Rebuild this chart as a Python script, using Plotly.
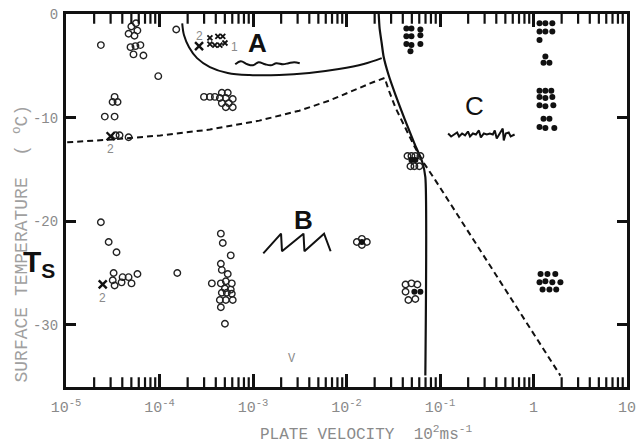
import math
import plotly.graph_objects as go

# ---------------- data ----------------
# open circles (plate velocity in 10^2 m/s, surface temperature in deg C)
open_v = [2.36e-5, 5.0e-5, 5.8e-5, 4.67e-5, 5.4e-5, 5.6e-5,
          4.9e-5, 5.53e-5, 6.25e-5, 5.27e-5, 6.73e-5,
          9.7e-5, 1.51e-4,
          3.31e-5, 3.15e-5, 3.56e-5, 2.60e-5, 3.31e-5,
          3.40e-5, 3.74e-5, 4.67e-5,
          2.36e-5, 2.86e-5, 3.47e-5, 3.23e-5, 3.16e-5, 3.31e-5, 4.03e-5, 3.93e-5, 4.67e-5, 5.02e-5, 5.81e-5, 1.55e-4,
          2.99e-4, 3.46e-4, 3.91e-4, 4.64e-4, 5.37e-4, 4.42e-4, 5.12e-4, 6.07e-4, 4.64e-4, 5.51e-4, 5.12e-4, 6.07e-4,
          4.53e-4, 4.75e-4, 5.78e-4, 4.53e-4, 4.64e-4, 5.37e-4, 3.63e-4, 4.53e-4, 5.12e-4, 5.93e-4, 5.01e-4, 5.78e-4,
          4.64e-4, 5.25e-4, 5.93e-4, 4.42e-4, 5.12e-4, 6.07e-4, 4.53e-4, 5.01e-4,
          1.29e-2, 1.46e-2, 1.65e-2, 1.46e-2,
          4.49e-2, 4.95e-2, 5.45e-2, 6.17e-2, 4.83e-2, 5.32e-2, 6.01e-2,
          4.28e-2, 4.95e-2, 5.73e-2, 4.28e-2, 4.59e-2, 5.45e-2]
open_T = [-3.0, -1.2, -1.6, -1.9, -2.1, -0.9,
          -3.2, -3.1, -3.0, -3.9, -4.0,
          -6.0, -1.5,
          -8.0, -8.5, -8.5, -9.9, -9.9,
          -11.7, -11.7, -11.9,
          -20.1, -22.0, -23.0, -25.0, -25.7, -26.2, -25.4, -25.9, -25.4, -26.0, -25.1, -25.0,
          -8.0, -8.0, -8.0, -7.6, -7.6, -8.1, -8.1, -8.2, -8.6, -8.6, -9.0, -9.0,
          -21.2, -22.1, -23.3, -24.1, -24.7, -25.1, -26.0, -26.0, -25.8, -26.0, -26.5, -26.6,
          -26.9, -26.9, -27.0, -27.6, -27.6, -27.6, -28.3, -29.9,
          -22.0, -21.7, -22.0, -22.3,
          -13.7, -13.7, -13.7, -13.7, -14.7, -14.7, -14.7,
          -26.1, -26.0, -26.1, -26.8, -27.6, -27.5]

# filled dots
filled_v = [1.46e-2, 4.95e-2, 5.45e-2, 5.32e-2, 6.17e-2,
            4.37e-2, 4.95e-2, 6.17e-2, 4.37e-2, 4.95e-2, 6.17e-2, 4.37e-2, 4.95e-2, 6.17e-2, 4.83e-2,
            1.16, 1.34, 1.59, 1.16, 1.34, 1.59, 1.16, 1.34, 1.28, 1.48,
            1.16, 1.34, 1.55, 1.16, 1.34, 1.59, 1.16, 1.34, 1.63, 1.28, 1.48, 1.16, 1.34, 1.67,
            1.19, 1.41, 1.71, 1.16, 1.34, 1.59, 1.94, 1.25, 1.48, 1.75]
filled_T = [-22.0, -14.1, -14.1, -26.8, -26.8,
            -1.4, -1.4, -1.5, -2.15, -2.15, -2.05, -2.9, -3.0, -2.9, -3.6,
            -0.9, -0.9, -0.9, -1.7, -1.7, -1.7, -2.5, -4.1, -4.7, -4.7,
            -7.4, -7.4, -7.4, -8.0, -8.1, -8.0, -8.8, -8.9, -8.8, -10.1, -10.1, -10.9, -11.0, -11.0,
            -25.1, -25.1, -25.1, -25.9, -25.8, -25.9, -25.9, -26.6, -26.6, -26.6]

# crosses
cross_big_v = [2.65e-4, 3.0e-5, 2.47e-5]
cross_big_T = [-3.1, -11.8, -26.1]
cross_small_v = [3.46e-4, 4.21e-4, 4.75e-4, 3.46e-4, 3.91e-4, 4.42e-4, 5.01e-4]
cross_small_T = [-2.3, -2.15, -2.15, -2.9, -3.0, -3.0, -2.8]

# boundary A (solid curve)
bA_v = [1.75e-4, 1.83e-4, 2.07e-4, 2.52e-4, 3.46e-4, 5.37e-4, 9.2e-4, 1.91e-3, 3.99e-3, 8.3e-3, 1.53e-2, 2.38e-2]
bA_T = [-0.9, -2.06, -3.21, -4.26, -5.12, -5.69, -5.89, -5.89, -5.69, -5.31, -4.83, -4.26]
# boundary C (solid curve)
bC_v = [2.21e-2, 2.26e-2, 2.38e-2, 2.49e-2, 2.82e-2, 3.34e-2, 4.17e-2, 5.32e-2, 6.47e-2, 6.97e-2, 6.97e-2]
bC_T = [0.0, -1.39, -2.82, -4.07, -5.89, -7.80, -10.10, -12.49, -14.31, -15.74, -34.9]
# dashed boundary
dash_v = [1.03e-5, 3.15e-5, 1.02e-4, 3.46e-4, 1.17e-3, 3.13e-3, 6.5e-3, 1.2e-2, 1.95e-2, 2.56e-2,
          2.82e-2, 3.34e-2, 4.28e-2, 5.32e-2, 6.64e-2, 8.9e-2, 1.94]
dash_T = [-12.39, -12.11, -11.72, -11.15, -10.29, -9.33, -8.37, -7.32, -6.56, -6.17,
          -7.32, -9.04, -10.96, -12.77, -14.31, -16.03, -34.9]

# regime sketches (log10 velocity, temperature)
wavyA_lv = [-3.19, -3.13, -3.06, -3.0, -2.94, -2.87, -2.81, -2.75, -2.68, -2.62, -2.56, -2.50]
wavyA_T = [-4.85, -4.55, -4.85, -4.95, -4.65, -4.85, -4.95, -4.75, -4.85, -4.75, -4.65, -4.75]
sawB_lv = [-2.89, -2.70, -2.69, -2.46, -2.45, -2.24, -2.17]
sawB_T = [-23.1, -21.2, -22.9, -21.2, -22.9, -21.2, -22.9]
noiseC_lv = [-0.913, -0.881, -0.849, -0.817, -0.796, -0.764, -0.732, -0.701, -0.679, -0.648, -0.616, -0.584, -0.563,
             -0.531, -0.499, -0.467, -0.435, -0.414, -0.393, -0.361, -0.329, -0.318, -0.297, -0.265, -0.244, -0.202]
noiseC_T = [-11.53, -11.82, -11.63, -11.44, -11.82, -11.53, -11.72, -11.34, -11.82, -11.53, -11.63, -11.24, -11.91,
            -11.53, -11.63, -11.53, -11.63, -11.24, -12.01, -11.53, -11.05, -12.20, -11.53, -11.44, -11.82, -11.63]

x_tickvals = [1e-5, 1e-4, 1e-3, 1e-2, 1e-1, 1, 10]
x_ticktext = ["10<sup>-5</sup>", "10<sup>-4</sup>", "10<sup>-3</sup>", "10<sup>-2</sup>",
              "10<sup>-1</sup>", "1", "10"]
x_decades = [1e-5, 1e-4, 1e-3, 1e-2, 1e-1, 1]
x_minor_mult = [2, 3, 4, 5, 6, 7, 8, 9]
y_tickvals = [0, -10, -20, -30]
y_ticktext = ["0", "-10", "-20", "-30"]
Y_RANGE = [-36, 0]

# labels: (text, velocity, temperature, size)
point_labels = [("2", 2.65e-4, -2.1, 12), ("1", 6.3e-4, -3.2, 12),
                ("2", 3.0e-5, -13.0, 12), ("2", 2.47e-5, -27.4, 12)]

# ---------------- figure ----------------
fig = go.Figure()
BLK = "#111111"
GRAY = "#8a8a8a"

fig.add_trace(go.Scatter(x=bA_v, y=bA_T, mode="lines", line=dict(color=BLK, width=2, shape="spline")))
fig.add_trace(go.Scatter(x=bC_v, y=bC_T, mode="lines", line=dict(color=BLK, width=2.2, shape="spline", smoothing=0.6)))
fig.add_trace(go.Scatter(x=dash_v, y=dash_T, mode="lines", line=dict(color=BLK, width=2, dash="6px,4px")))

fig.add_trace(go.Scatter(x=[10 ** v for v in wavyA_lv], y=wavyA_T, mode="lines",
                         line=dict(color=BLK, width=2, shape="spline")))
fig.add_trace(go.Scatter(x=[10 ** v for v in sawB_lv], y=sawB_T, mode="lines",
                         line=dict(color=BLK, width=2)))
fig.add_trace(go.Scatter(x=[10 ** v for v in noiseC_lv], y=noiseC_T, mode="lines",
                         line=dict(color=BLK, width=2)))

fig.add_trace(go.Scatter(x=open_v, y=open_T, mode="markers",
                         marker=dict(symbol="circle-open", size=6.5, color="#222", line=dict(width=1.4, color="#222"))))
fig.add_trace(go.Scatter(x=filled_v, y=filled_T, mode="markers",
                         marker=dict(symbol="circle", size=6, color=BLK)))
fig.add_trace(go.Scatter(x=cross_big_v, y=cross_big_T, mode="markers",
                         marker=dict(symbol="x-thin", size=8, line=dict(width=2.4, color=BLK))))
fig.add_trace(go.Scatter(x=cross_small_v, y=cross_small_T, mode="markers",
                         marker=dict(symbol="x-thin", size=5, line=dict(width=1.8, color=BLK))))

# minor log ticks (2..9 per decade) drawn as short vertical dash markers just inside bottom and top axes
minor_x = [m * d for d in x_decades for m in x_minor_mult]
inset = 0.4  # about half a tick length, in degrees
for yv in (Y_RANGE[0] + inset, Y_RANGE[1] - inset):
    fig.add_trace(go.Scatter(x=minor_x, y=[yv] * len(minor_x), mode="markers", cliponaxis=False,
                             hoverinfo="skip",
                             marker=dict(symbol="line-ns", size=8, color=BLK, line=dict(width=2.2, color=BLK))))


def ann(text, x, y, size, color=GRAY, family="Liberation Sans", data=True, **kw):
    if data:
        x = math.log10(x)
    fig.add_annotation(text=text, x=x, y=y, showarrow=False, xanchor="center", yanchor="middle",
                       font=dict(size=size, color=color, family=family), **kw)


for t, v, T, s in point_labels:
    ann(t, v, T, s)

# regime letters
ann("<b>A</b>", 1.12e-3, -2.8, 26, color=BLK)
ann("<b>B</b>", 3.5e-3, -19.9, 26, color=BLK)
ann("C", 0.231, -8.9, 26, color=BLK)
ann("V", 2.6e-3, -33.3, 12, family="Liberation Mono")

# axis titles as paper annotations
ann("PLATE VELOCITY  10<sup>2</sup>ms<sup>-1</sup>", 0.535, -0.125, 16, family="Liberation Mono",
    data=False, xref="paper", yref="paper")
ann("SURFACE TEMPERATURE  ( <sup>o</sup>C)", -0.08, 0.385, 18, color="#a0a0a0", family="Liberation Mono",
    data=False, xref="paper", yref="paper", textangle=-90)
ann("<b>T<sub>S</sub></b>", -0.048, 0.33, 30, color=BLK, data=False, xref="paper", yref="paper")

fig.update_xaxes(type="log", range=[-5, 1], tickmode="array", tickvals=x_tickvals, ticktext=x_ticktext,
                 ticks="inside", ticklen=13, tickwidth=2.6, tickcolor=BLK,
                 showline=True, linewidth=3, linecolor=BLK, mirror="ticks", showgrid=False, zeroline=False,
                 ticklabelstandoff=4,
                 tickfont=dict(family="Liberation Mono", size=15, color=GRAY))
fig.update_yaxes(range=Y_RANGE, tickmode="array", tickvals=y_tickvals, ticktext=y_ticktext,
                 ticks="inside", ticklen=10, tickwidth=2.6, tickcolor=BLK,
                 showline=True, linewidth=3, linecolor=BLK, mirror="ticks", showgrid=False, zeroline=False,
                 ticklabelstandoff=2,
                 tickfont=dict(family="Liberation Mono", size=14, color=GRAY))

fig.update_layout(width=643, height=447, margin=dict(l=66, r=7, t=7, b=60),
                  plot_bgcolor="white", paper_bgcolor="white", showlegend=False)

fig.write_html("out.html")
